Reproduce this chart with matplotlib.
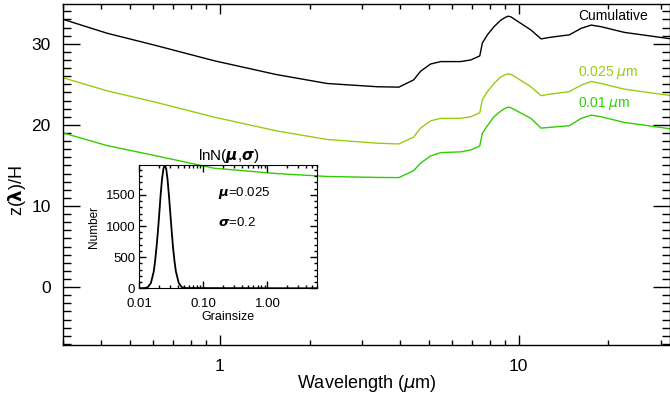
import matplotlib
matplotlib.use("Agg")
import matplotlib.pyplot as plt
from matplotlib.ticker import FixedLocator, NullFormatter, LogLocator, MultipleLocator, FormatStrFormatter

plt.rcParams["font.family"] = ["Liberation Sans", "DejaVu Sans"]
plt.rcParams["mathtext.fontset"] = "dejavusans"

# wavelength grid (micron) and the three extinction curves
wavelength = [0.30, 0.42, 0.61, 0.96, 1.55, 2.29, 3.37, 3.98, 4.46, 4.70, 5.08, 5.49,
              6.40, 6.92, 7.42, 7.57, 7.87, 8.28, 8.72, 8.98, 9.23, 9.45, 9.67, 11.0,
              11.9, 12.8, 14.8, 16.2, 17.5, 18.9, 22.6, 27.1, 32.4]
cumulative = [33.0, 31.3, 29.8, 27.9, 26.2, 25.1, 24.7, 24.65, 25.55, 26.6, 27.5, 27.8,
              27.8, 28.0, 28.5, 30.1, 31.1, 32.1, 32.9, 33.2, 33.4, 33.3, 33.05, 31.7,
              30.6, 30.8, 31.1, 31.9, 32.3, 32.1, 31.4, 31.0, 30.6]
size_0025 = [25.8, 24.2, 22.8, 20.95, 19.26, 18.2, 17.74, 17.65, 18.5, 19.6, 20.5, 20.8,
             20.8, 21.0, 21.5, 23.1, 24.1, 25.1, 25.9, 26.15, 26.3, 26.2, 26.0, 24.7,
             23.6, 23.8, 24.1, 24.9, 25.35, 25.1, 24.4, 24.0, 23.6]
size_001 = [19.0, 17.45, 16.2, 14.65, 14.0, 13.64, 13.52, 13.5, 14.36, 15.27, 16.17, 16.58,
            16.67, 16.9, 17.4, 18.97, 19.9, 21.0, 21.7, 22.0, 22.2, 22.1, 21.9, 20.8,
            19.6, 19.7, 19.9, 20.8, 21.2, 21.0, 20.3, 19.9, 19.5]

# grain size distribution in the inset
grainsize = [0.010, 0.0124, 0.0137, 0.0152, 0.0168, 0.0176, 0.0185, 0.0195, 0.0205, 0.0215,
             0.0226, 0.0238, 0.025, 0.0263, 0.0276, 0.029, 0.0305, 0.0321, 0.0337, 0.0355,
             0.0373, 0.0412, 0.0456, 0.0503, 6.0]
number = [0, 4, 22, 87, 268, 428, 643, 906, 1200, 1495,
          1747, 1919, 1980, 1919, 1747, 1495, 1200, 906, 643, 428,
          268, 87, 22, 4, 0]

c_black = "black"
c_0025 = "#99cc11"
c_001 = "#33cc00"

fig = plt.figure(figsize=(6.70, 4.01), dpi=100)
W, H = 670.0, 401.0
ax = fig.add_axes([63.3 / W, 1 - 344.7 / H, (669.5 - 63.3) / W, (344.7 - 4) / H])

ax.plot(wavelength, cumulative, color=c_black, lw=1.0)
ax.plot(wavelength, size_0025, color=c_0025, lw=1.0)
ax.plot(wavelength, size_001, color=c_001, lw=1.0)

ax.set_xscale("log")
ax.set_xlim(0.3, 32)
ax.set_ylim(-7.1, 34.9)
ax.xaxis.set_major_locator(FixedLocator([1, 10]))
ax.xaxis.set_major_formatter(FormatStrFormatter("%d"))
ax.xaxis.set_minor_locator(LogLocator(base=10, subs=range(2, 10)))
ax.xaxis.set_minor_formatter(NullFormatter())
ax.yaxis.set_major_locator(MultipleLocator(10))
ax.yaxis.set_minor_locator(MultipleLocator(1))
ax.tick_params(which="both", direction="in", top=True, right=True, labelsize=12.5, width=1)
ax.tick_params(axis="y", which="major", length=12, pad=9)
ax.tick_params(axis="y", which="minor", length=6)
ax.tick_params(axis="x", which="major", length=7, pad=10)
ax.tick_params(axis="x", which="minor", length=3.5)
for s in ax.spines.values():
    s.set_linewidth(1)

fig.text(367 / W, 1 - 383 / H, r"Wavelength ($\mu$m)", ha="center", va="center", fontsize=13)
fig.text(17 / W, 1 - 191 / H, r"z($\boldsymbol{\lambda}$)/H", ha="center", va="center",
         fontsize=13, rotation=90)

fig.text(578 / W, 1 - 15.5 / H, "Cumulative", ha="left", va="center", fontsize=10, color=c_black)
fig.text(578 / W, 1 - 72.7 / H, r"0.025 $\mu$m", ha="left", va="center", fontsize=10, color=c_0025)
fig.text(578 / W, 1 - 104 / H, r"0.01 $\mu$m", ha="left", va="center", fontsize=10, color=c_001)

# inset
ins = fig.add_axes([139.3 / W, 1 - 288.3 / H, (317.3 - 139.3) / W, (288.3 - 165) / H])
ins.patch.set_visible(False)
ins.plot(grainsize, number, color="black", lw=1.3)
ins.set_xscale("log")
ins.set_xlim(0.01, 6)
ins.set_ylim(0, 1980)
ins.xaxis.set_major_locator(FixedLocator([0.01, 0.1, 1.0]))
ins.xaxis.set_major_formatter(FormatStrFormatter("%.2f"))
ins.xaxis.set_minor_locator(LogLocator(base=10, subs=range(2, 10)))
ins.xaxis.set_minor_formatter(NullFormatter())
ins.yaxis.set_major_locator(MultipleLocator(500))
ins.yaxis.set_minor_locator(MultipleLocator(100))
ins.tick_params(which="both", direction="in", top=True, right=True, labelsize=9.5, width=1)
ins.tick_params(which="major", length=5)
ins.tick_params(which="minor", length=2.5)
ins.tick_params(axis="y", pad=3)
ins.tick_params(axis="x", pad=7)
ins.set_xlabel("Grainsize", fontsize=9, labelpad=1)
ins.set_ylabel("Number", fontsize=8.5, labelpad=4)
ins.set_title(r"lnN($\boldsymbol{\mu}$,$\boldsymbol{\sigma}$)", fontsize=11, pad=2)
ins.text(0.44, 0.77, r"$\boldsymbol{\mu}$=0.025", transform=ins.transAxes, fontsize=9.5, va="center")
ins.text(0.44, 0.53, r"$\boldsymbol{\sigma}$=0.2", transform=ins.transAxes, fontsize=9.5, va="center")

fig.savefig("out.png", dpi=100)
